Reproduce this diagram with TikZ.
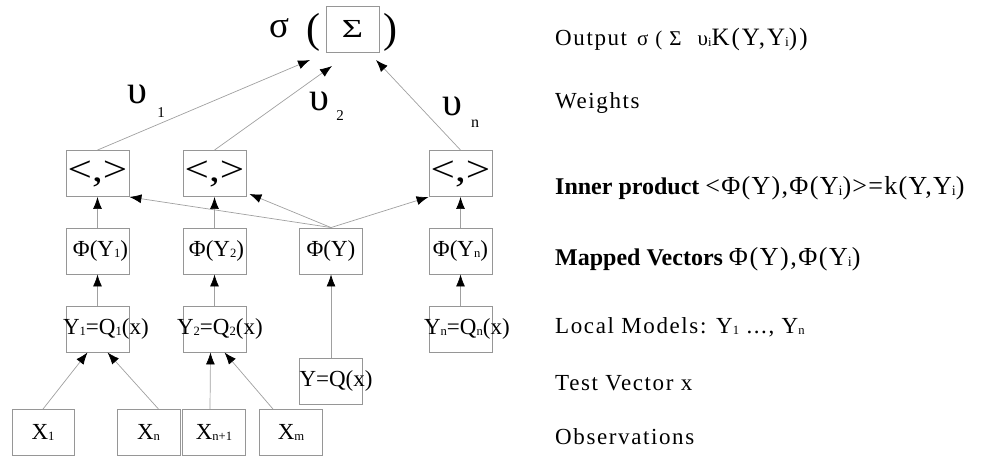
\documentclass[tikz,border=0pt]{standalone}
\usepackage{fontspec}
\setmainfont{Liberation Serif}
\usetikzlibrary{arrows.meta}
\usetikzlibrary{math}
\definecolor{boxgray}{RGB}{150,150,150}
\definecolor{linegray}{RGB}{160,160,160}
\newcommand{\lowsub}[1]{\raisebox{-1pt}{\scalebox{0.55}{#1}}}

\begin{document}
\begin{tikzpicture}[x=1pt,y=-1pt,
  unit/.style={draw=boxgray, line width=0.9pt, minimum width=63pt, minimum height=46pt, inner sep=0pt, font=\fontsize{23}{23}\selectfont},
  link/.style={draw=linegray, line width=0.7pt, -{Latex[length=12pt,width=9pt,black]}},
  legend/.style={anchor=base west, inner sep=0pt, font=\fontsize{23}{23}\selectfont\addfontfeature{LetterSpace=7}},
  legendb/.style={anchor=base west, inner sep=0pt, font=\fontsize{24}{24}\selectfont\bfseries}]
\useasboundingbox (0,0) rectangle (981,456);

\tikzmath{
\colA = 97.5;
\colB = 214.5;
\colY = 331;
\colN = 460.5;
\rowIP = 173.5;
\rowPhi = 251;
\rowQ = 329;
\rowT = 381;
\rowX = 432.5;
}

%Output
\node[anchor=base, inner sep=0pt] (sig) at (279,37) {\fontsize{37}{37}\selectfont σ};
\node[inner sep=0pt] (lpar) at (313,32) {\fontsize{42}{42}\selectfont (};
\node[unit, minimum width=53pt] (sum) at (352.5,29) {\fontsize{26}{26}\selectfont\scalebox{1.4}[1]{Σ}};
\node[inner sep=0pt] (rpar) at (390,32) {\fontsize{42}{42}\selectfont )};

\coordinate (s1) at (310,60);
\coordinate (s2) at (332,66);
\coordinate (sn) at (376,60);

%Weights
\node[anchor=base, inner sep=0pt] (w1) at (137,103) {\fontsize{40}{40}\selectfont υ};
\node[anchor=base, inner sep=0pt] (w1i) at (161,117) {\fontsize{15}{15}\selectfont 1};
\node[anchor=base, inner sep=0pt] (w2) at (319,110) {\fontsize{40}{40}\selectfont υ};
\node[anchor=base, inner sep=0pt] (w2i) at (340,120) {\fontsize{15}{15}\selectfont 2};
\node[anchor=base, inner sep=0pt] (wn) at (452,115) {\fontsize{40}{40}\selectfont υ};
\node[anchor=base, inner sep=0pt] (wni) at (475,127) {\fontsize{16}{16}\selectfont n};

%Inner products
\foreach \c/\n in {\colA/1,\colB/2,\colN/n}{
  \node[unit] (ip\n) at (\c,\rowIP) {\fontsize{36}{36}\selectfont\scalebox{1.2}[1]{<,>}};
}

%Mapped vectors
\node[unit] (p1) at (\colA,\rowPhi) {\makebox[0pt]{\hspace{6pt}Φ(Y\lowsub{1})}};
\node[unit] (p2) at (\colB,\rowPhi) {\makebox[0pt]{\hspace{4pt}Φ(Y\lowsub{2})}};
\node[unit] (pY) at (\colY,\rowPhi) {Φ(Y)};
\node[unit] (pn) at (\colN,\rowPhi) {\makebox[0pt]{Φ(Y\lowsub{n})}};

%Local models
\node[unit] (q1) at (\colA,\rowQ) {\makebox[63pt][l]{\hspace{-3pt}Y\lowsub{1}=Q\lowsub{1}(x)}};
\node[unit] (q2) at (\colB,\rowQ) {\makebox[63pt][l]{\hspace{-6pt}Y\lowsub{2}=Q\lowsub{2}(x)}};
\node[unit] (qn) at (\colN,\rowQ) {\makebox[63pt][l]{\hspace{-5pt}Y\lowsub{n}=Q\lowsub{n}(x)}};
\node[unit] (qY) at (\colY,\rowT) {\makebox[63pt][l]{Y=Q(x)}};

%Observations
\node[unit, minimum width=62pt] (x1) at (43,\rowX) {X\lowsub{1}};
\node[unit] (xn) at (148.5,\rowX) {X\lowsub{n}};
\node[unit] (xn1) at (214,\rowX) {X\lowsub{n+1}};
\node[unit] (xm) at (291,\rowX) {X\lowsub{m}};

%connections
\draw[link] (ip1.north) -- (s1);
\draw[link] (ip2.north) -- (s2);
\draw[link] (ipn.north) -- (sn);

\draw[link] (pY.north) -- (ip1.south east);
\draw[link] (pY.north) -- ([xshift=3pt,yshift=3pt]ip2.south east);
\draw[link] (pY.north) -- (ipn.south west);

\foreach \n in {1,2,n}{
  \draw[link] (p\n) -- (ip\n);
  \draw[link] (q\n) -- (p\n);
}
\draw[link] (qY) -- (pY);

\draw[link] (x1.north) -- ([xshift=-10pt]q1.south);
\draw[link] ([xshift=10pt]xn.north) -- ([xshift=10pt]q1.south);
\draw[link] ([xshift=-4pt]xn1.north) -- ([xshift=-4pt]q2.south);
\draw[link] ([xshift=-18pt]xm.north) -- ([xshift=10pt]q2.south);

%Legend
\node[legend] (lout) at (555,45) {Output\hspace{10pt}{\fontsize{21}{21}\selectfont σ\hspace{7pt}(\hspace{7pt}Σ\hspace{16pt}υ}\lowsub{i}{\fontsize{25}{25}\selectfont\addfontfeature{LetterSpace=8}K(Y,Y\lowsub{i}))}};
\node[legend] (lw) at (555,108) {Weights};
\node[legendb] (lip) at (555,194) {Inner product {\mdseries\fontsize{26}{26}\selectfont\addfontfeature{LetterSpace=5}<Φ(Y),Φ(Y\lowsub{i})>=k(Y,Y\lowsub{i})}};
\node[legendb] (lmap) at (555,265) {Mapped Vectors {\mdseries\fontsize{26}{26}\selectfont\addfontfeature{LetterSpace=6}Φ(Y),Φ(Y\lowsub{i})}};
\node[legend] (lloc) at (555,333) {Local Models: Y\lowsub{1} ..., Y\lowsub{n}};
\node[legend] (ltest) at (555,390) {Test Vector x};
\node[legend] (lobs) at (555,444) {Observations};

\end{tikzpicture}
\end{document}
